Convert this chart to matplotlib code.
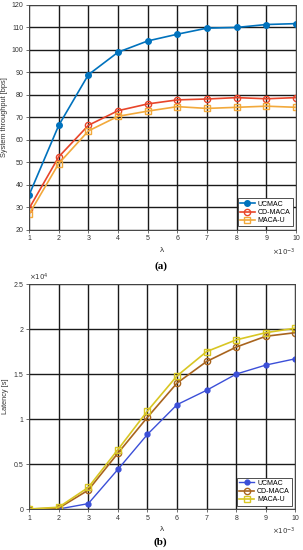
import matplotlib
matplotlib.use("Agg")
import matplotlib.pyplot as plt
from matplotlib.ticker import FuncFormatter, MultipleLocator

plt.rcParams['font.family'] = ['Liberation Sans', 'DejaVu Sans']

lam = [1, 2, 3, 4, 5, 6, 7, 8, 9, 10]  # x 1e-3
series = ["UCMAC", "CD-MACA", "MACA-U"]

thr_ucmac = [35.5, 66.5, 89.0, 99.0, 104.0, 107.0, 109.7, 110.0, 111.3, 111.7]
thr_cdmaca = [29.5, 52.5, 66.5, 73.0, 76.0, 77.8, 78.2, 78.8, 78.3, 78.8]
thr_macau = [27.0, 49.5, 64.0, 70.5, 72.8, 74.8, 74.0, 74.5, 75.0, 74.5]

lat_ucmac = [0, 0, 600, 4400, 8300, 11600, 13200, 15000, 16000, 16700]
lat_cdmaca = [0, 100, 2100, 6200, 10200, 14000, 16400, 18000, 19200, 19600]
lat_macau = [0, 200, 2400, 6600, 10900, 14800, 17500, 18800, 19600, 20100]

fig = plt.figure(figsize=(3.03, 5.5), dpi=100)

def style(ax):
    ax.grid(True, color='#1a1a1a', linewidth=1.0)
    ax.set_axisbelow(True)
    ax.tick_params(labelsize=5, length=2, width=0.5, colors='#333333', pad=2)
    for s in ax.spines.values():
        s.set_color('#444444')
        s.set_linewidth(0.7)
    ax.set_xlim(1, 10)
    ax.xaxis.set_major_locator(MultipleLocator(1))
    ax.set_xlabel('λ', fontsize=6, labelpad=3, color='#333333')
    ax.text(1.0, -0.075, r'$\times10^{-3}$', transform=ax.transAxes, ha='right',
            va='top', fontsize=5, color='#333333')

# (a)
ax1 = fig.add_axes([0.096, 0.582, 0.881, 0.409])
c1 = ['#0072BD', '#E8452A', '#F2A93B']
ax1.plot(lam, thr_ucmac, '-o', color=c1[0], lw=1.2, ms=4, mfc=c1[0], label=series[0])
ax1.plot(lam, thr_cdmaca, '-o', color=c1[1], lw=1.2, ms=4.5, mfc='none', mew=1.0, label=series[1])
ax1.plot(lam, thr_macau, '-s', color=c1[2], lw=1.2, ms=4, mfc='none', mew=1.0, label=series[2])
style(ax1)
ax1.set_ylim(20, 120)
ax1.yaxis.set_major_locator(MultipleLocator(10))
ax1.set_ylabel('System throughput [bps]', fontsize=5.3, labelpad=3, color='#333333')
leg = ax1.legend(loc='lower right', fontsize=5, frameon=True, fancybox=False,
                 edgecolor='#333333', framealpha=1, borderpad=0.3, labelspacing=0.2,
                 handlelength=2.2, handletextpad=0.4, borderaxespad=0.5)
leg.get_frame().set_linewidth(0.6)
fig.text(0.53, 1 - 266 / 550, '(a)', ha='center', va='center', fontsize=8,
         fontweight='bold', family='Liberation Serif')

# (b)
ax2 = fig.add_axes([0.096, 0.0745, 0.879, 0.409])
c2 = ['#3B4FD8', '#A8641E', '#D8C623']
ax2.plot(lam, lat_ucmac, '-o', color=c2[0], lw=1.0, ms=3.5, mfc=c2[0], label=series[0])
ax2.plot(lam, lat_cdmaca, '-o', color=c2[1], lw=1.2, ms=4.5, mfc='none', mew=1.0, label=series[1])
ax2.plot(lam, lat_macau, '-s', color=c2[2], lw=1.2, ms=4, mfc='none', mew=1.0, label=series[2])
style(ax2)
ax2.set_ylim(0, 25000)
ax2.yaxis.set_major_locator(MultipleLocator(5000))
ax2.yaxis.set_major_formatter(FuncFormatter(lambda v, p: '%g' % (v / 1e4)))
ax2.text(0.0, 1.005, r'$\times10^{4}$', transform=ax2.transAxes, ha='left',
         va='bottom', fontsize=5, color='#333333')
ax2.set_ylabel('Latency [s]', fontsize=5.3, labelpad=3, color='#333333')
leg2 = ax2.legend(loc='lower right', fontsize=5, frameon=True, fancybox=False,
                  edgecolor='#333333', framealpha=1, borderpad=0.3, labelspacing=0.2,
                  handlelength=2.2, handletextpad=0.4, borderaxespad=0.5)
leg2.get_frame().set_linewidth(0.6)
fig.text(0.53, 1 - 542 / 550, '(b)', ha='center', va='center', fontsize=8,
         fontweight='bold', family='Liberation Serif')

fig.savefig('out.png', dpi=100)
